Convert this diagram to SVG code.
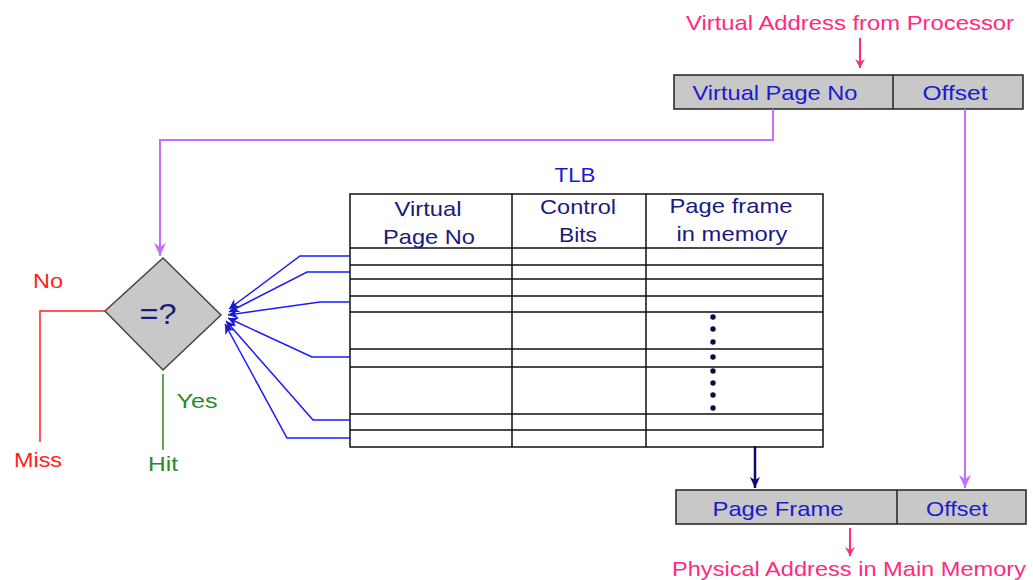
<svg xmlns="http://www.w3.org/2000/svg" width="1033" height="580" viewBox="0 0 1033 580">
<defs>
<style>
text{font-family:"Liberation Sans",Arial,sans-serif;font-size:21px;text-anchor:middle}
.pink{fill:#ff2a7f}
.blue{fill:#1a1ad0}
.navy{fill:#1a1a80}
.box{fill:#c8c8c8;stroke:#222;stroke-width:1.5}
.tl{stroke:#111;stroke-width:1.5;fill:none}
.bl{stroke:#1a1aff;stroke-width:1.5;fill:none;marker-end:url(#ab)}
</style>
<marker id="ap" markerWidth="10" markerHeight="10" refX="9" refY="5" orient="auto" markerUnits="userSpaceOnUse" viewBox="0 0 10 10"><path d="M0,0 L9,5 L0,10 L3,5z" fill="#ff2a7f"/></marker>
<marker id="au" markerWidth="14" markerHeight="12" refX="13" refY="6" orient="auto" markerUnits="userSpaceOnUse" viewBox="0 0 14 12"><path d="M0,0 L13,6 L0,12 L4,6z" fill="#c070ff"/></marker>
<marker id="an" markerWidth="12" markerHeight="10" refX="11" refY="5" orient="auto" markerUnits="userSpaceOnUse" viewBox="0 0 12 10"><path d="M0,0 L11,5 L0,10 L3,5z" fill="#0a0a70"/></marker>
<marker id="ab" markerWidth="10" markerHeight="10" refX="10" refY="5" orient="auto" markerUnits="userSpaceOnUse" viewBox="0 0 10 10"><path d="M0,0 L10,5 L0,10 L3,5z" fill="#1a1ad0"/></marker>
</defs>

<g id="virtual-address">
<text x="850" y="30" class="pink" textLength="328" lengthAdjust="spacingAndGlyphs">Virtual Address from Processor</text>
<rect x="674" y="75" width="349" height="34" class="box"/>
<line x1="893" y1="75" x2="893" y2="109" stroke="#222" stroke-width="1.5"/>
<text x="775" y="100" class="blue" textLength="165" lengthAdjust="spacingAndGlyphs">Virtual Page No</text>
<text x="955" y="100" class="blue" textLength="65" lengthAdjust="spacingAndGlyphs">Offset</text>
</g>

<g id="physical-address">
<rect x="676" y="490" width="350" height="34" class="box"/>
<line x1="897" y1="490" x2="897" y2="524" stroke="#222" stroke-width="1.5"/>
<text x="778" y="516" class="blue" textLength="131" lengthAdjust="spacingAndGlyphs">Page Frame</text>
<text x="957" y="516" class="blue" textLength="62" lengthAdjust="spacingAndGlyphs">Offset</text>
<text x="849" y="576" class="pink" textLength="354" lengthAdjust="spacingAndGlyphs">Physical Address in Main Memory</text>
</g>

<g id="comparator">
<polygon points="163,258 221,315 163,370 105,311" fill="#c8c8c8" stroke="#444" stroke-width="1.5"/>
<text x="158" y="324" class="navy" style="font-size:30px" textLength="37" lengthAdjust="spacingAndGlyphs">=?</text>
</g>

<g id="tlb">
<text x="575" y="182" class="blue" textLength="41" lengthAdjust="spacingAndGlyphs">TLB</text>
<rect x="350" y="194" width="473" height="253" fill="#fff" class="tl"/>
<path class="tl" d="M512,194V447M646,194V447M350,248H823M350,265H823M350,279H823M350,296H823M350,312H823M350,349H823M350,367H823M350,414H823M350,430H823"/>
<text x="428" y="216" class="navy" textLength="67" lengthAdjust="spacingAndGlyphs">Virtual</text>
<text x="429" y="244" class="navy" textLength="92" lengthAdjust="spacingAndGlyphs">Page No</text>
<text x="578" y="214" class="navy" textLength="76" lengthAdjust="spacingAndGlyphs">Control</text>
<text x="578" y="242" class="navy" textLength="38" lengthAdjust="spacingAndGlyphs">Bits</text>
<text x="731" y="213" class="navy" textLength="123" lengthAdjust="spacingAndGlyphs">Page frame</text>
<text x="732" y="241" class="navy" textLength="111" lengthAdjust="spacingAndGlyphs">in memory</text>
<g fill="#0a0a40">
<circle cx="713" cy="317" r="2.7"/><circle cx="713" cy="329" r="2.7"/><circle cx="713" cy="342" r="2.7"/><circle cx="713" cy="357" r="2.7"/>
<circle cx="713" cy="371" r="2.7"/><circle cx="713" cy="383" r="2.7"/><circle cx="713" cy="395" r="2.7"/><circle cx="713" cy="408" r="2.7"/>
</g>
</g>

<g id="labels">
<text x="48" y="288" fill="#ff2020" textLength="30" lengthAdjust="spacingAndGlyphs">No</text>
<text x="38" y="467" fill="#ff2020" textLength="48" lengthAdjust="spacingAndGlyphs">Miss</text>
<text x="197" y="408" fill="#2a8a2a" textLength="41" lengthAdjust="spacingAndGlyphs">Yes</text>
<text x="163" y="471" fill="#2a8a2a" textLength="30" lengthAdjust="spacingAndGlyphs">Hit</text>
</g>

<g id="connectors">
<line x1="860" y1="38" x2="860" y2="68" stroke="#ff2a7f" stroke-width="2" marker-end="url(#ap)"/>
<line x1="850" y1="528" x2="850" y2="556" stroke="#ff2a7f" stroke-width="2" marker-end="url(#ap)"/>
<polyline points="773,109 773,140 160,140 160,256" fill="none" stroke="#c070ff" stroke-width="2" marker-end="url(#au)"/>
<line x1="965" y1="109" x2="965" y2="488" stroke="#c070ff" stroke-width="2" marker-end="url(#au)"/>
<line x1="755" y1="446" x2="755" y2="488" stroke="#0a0a70" stroke-width="2.5" marker-end="url(#an)"/>
<polyline points="105,311 40,311 40,442" fill="none" stroke="#ff2020" stroke-width="1.5"/>
<line x1="163" y1="374" x2="163" y2="450" stroke="#2a8a2a" stroke-width="1.5"/>
<polyline class="bl" points="350,256 300,256 229,309"/>
<polyline class="bl" points="350,272 307,272 229,312"/>
<polyline class="bl" points="350,302 320,302 228,315"/>
<polyline class="bl" points="350,357 312,357 228,318"/>
<polyline class="bl" points="350,420 313,420 226,321"/>
<polyline class="bl" points="350,438 287,438 225,324"/>
</g>
</svg>
